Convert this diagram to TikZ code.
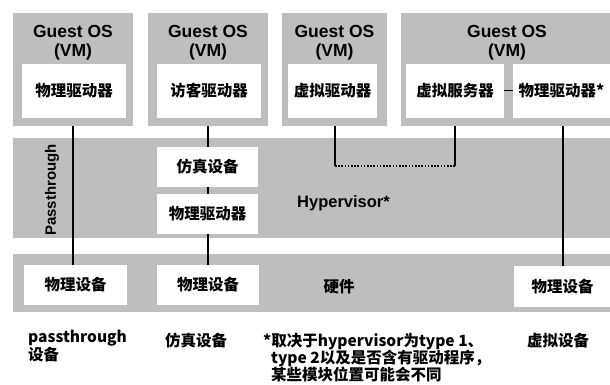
\documentclass[tikz,border=0pt]{standalone}
\usepackage{fontspec}
\setmainfont{Liberation Sans}
\newfontfamily\cjk{Noto Sans CJK SC}
\definecolor{band}{RGB}{190,190,190}
\tikzset{
  graybox/.style={fill=band, draw=none, inner sep=0pt, rectangle},
  whitebox/.style={fill=white, draw=none, inner sep=0pt, rectangle, font=\cjk\bfseries\fontsize{15.5}{18}\selectfont},
  vmlabel/.style={font=\bfseries\fontsize{17.5}{19}\selectfont, align=center, inner sep=0pt},
  conn/.style={line width=1.3pt, black},
  note/.style={font=\cjk\bfseries\fontsize{15.5}{17}\selectfont, align=left, inner sep=0pt, anchor=north west}
}
\begin{document}
\begin{tikzpicture}[x=1pt,y=-1pt]
\useasboundingbox (0,0) rectangle (610,385);
\fill[white] (0,0) rectangle (610,385);
% VM boxes
\node[graybox, minimum width=120pt, minimum height=113pt] (vm1) at (73,69.5) {};
\node[graybox, minimum width=120pt, minimum height=113pt] (vm2) at (208,69.5) {};
\node[graybox, minimum width=105pt, minimum height=113pt] (vm3) at (334.5,69.5) {};
\node[graybox, minimum width=210pt, minimum height=113pt] (vm4) at (506,69.5) {};
\node[vmlabel] (l1) at (73,42.5) {Guest OS\\(VM)};
\node[vmlabel] (l2) at (208,42.5) {Guest OS\\(VM)};
\node[vmlabel] (l3) at (334.5,42.5) {Guest OS\\(VM)};
\node[vmlabel] (l4) at (507,42.5) {Guest OS\\(VM)};
% inner boxes
\node[whitebox, minimum width=104pt, minimum height=54pt] (d1) at (74,91) {物理驱动器};
\node[whitebox, minimum width=104pt, minimum height=54pt] (d2) at (209,91) {访客驱动器};
\node[whitebox, minimum width=89pt, minimum height=54pt] (d3) at (332.5,91) {虚拟驱动器};
\node[whitebox, minimum width=98pt, minimum height=54pt] (d4) at (455,91) {虚拟服务器};
\node[whitebox, minimum width=97pt, minimum height=54pt] (d5) at (561.5,91) {物理驱动器*};
\draw[line width=1pt] (d4.east) -- (d5.west);
% bands
\node[graybox, minimum width=598pt, minimum height=100pt] (hyp) at (312,188) {};
\node[graybox, minimum width=598pt, minimum height=58pt] (hw) at (312,283) {};
\node[font=\bfseries\fontsize{16.5}{19}\selectfont, anchor=west, inner sep=0pt] (hyptext) at (297,203) {Hypervisor*};
\node[font=\bfseries\fontsize{15}{18}\selectfont, rotate=90, inner sep=0pt] (pt) at (52,190) {Passthrough};
\node[font=\cjk\bfseries\fontsize{15.5}{18}\selectfont, inner sep=0pt] (hwtext) at (339,287) {硬件};
% emulation boxes
\node[whitebox, minimum width=101pt, minimum height=40pt] (e1) at (207.5,167) {仿真设备};
\node[whitebox, minimum width=101pt, minimum height=40pt] (e2) at (207.5,214) {物理驱动器};
% hardware boxes
\node[whitebox, minimum width=103pt, minimum height=40pt] (h1) at (75.5,285) {物理设备};
\node[whitebox, minimum width=102pt, minimum height=40pt] (h2) at (208,285) {物理设备};
\node[whitebox, minimum width=97pt, minimum height=41pt] (h3) at (562.5,286.5) {物理设备};
% connectors
\draw[conn] (vm1.south) -- (vm1.south |- h1.north);
\draw[conn] (vm2.south) -- (vm2.south |- e1.north);
\draw[conn] (vm2.south |- e1.south) -- (vm2.south |- e2.north);
\draw[conn] (vm2.south |- e2.south) -- (vm2.south |- h2.north);
\coordinate (c1) at (335,166);
\coordinate (c2) at (455,166);
\draw[conn] (c1 |- vm3.south) -- (c1);
\draw[line width=1.6pt, dash pattern=on 1.6pt off 1.6pt] (c1) -- (c2);
\draw[conn] (c2) -- (c2 |- vm4.south);
\coordinate (c3) at (563,0);
\draw[conn] (c3 |- vm4.south) -- (c3 |- h3.north);
% bottom notes
\node[note] (n1) at (28,330) {passthrough\\设备};
\node[note] (n2) at (165,333) {仿真设备};
\node[note] (n3) at (263,333) {*取决于hypervisor为type 1、\\\hspace*{8pt}type 2以及是否含有驱动程序，\\\hspace*{8pt}某些模块位置可能会不同};
\node[note] (n4) at (527,333) {虚拟设备};
\end{tikzpicture}
\end{document}
